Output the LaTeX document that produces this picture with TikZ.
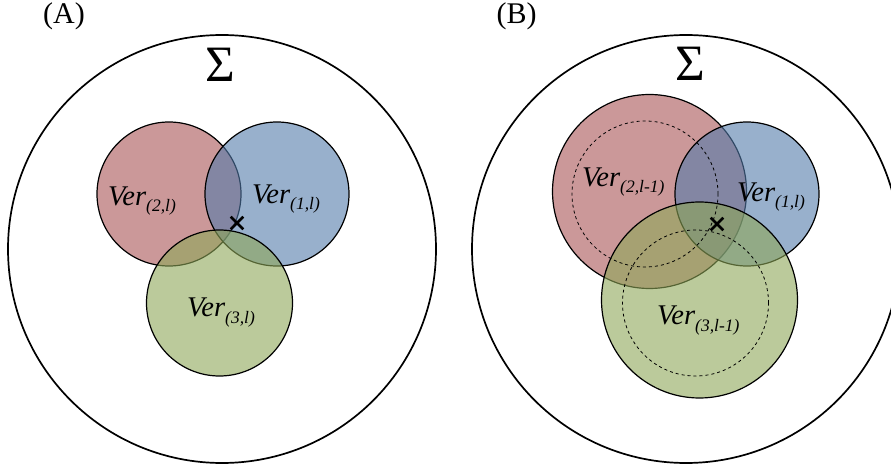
\documentclass[tikz,border=0pt]{standalone}
\usepackage{fontspec}
\setmainfont{Liberation Serif}
\usepackage{tikz}
\usetikzlibrary{shapes.misc, positioning}

\definecolor{verred}{RGB}{168,83,85}
\definecolor{verblue}{RGB}{83,123,170}
\definecolor{vergreen}{RGB}{142,167,88}

% subscript of a vertex set label
\newcommand{\vsub}[1]{\raisebox{-6pt}{\fontsize{17.5}{17.5}\selectfont #1}}

\begin{document}
\begin{tikzpicture}[
    x=1pt, y=1pt,
    % Node styles
    sigma set/.style={
        circle, draw, line width=1.7pt, inner sep=0pt,
      },
    ver set/.style={
        circle, draw, line width=1.2pt, inner sep=0pt, fill opacity=0.6,
      },
    old set/.style={
        circle, draw, dashed, line width=0.8pt, inner sep=0pt,
      },
    cross mark/.style={
        cross out, draw, line width=2.6pt, minimum size=10pt, inner sep=0pt,
      },
    % Text styles
    ver label/.style={
        font=\itshape\fontsize{28.5}{28.5}\selectfont, anchor=base west, inner sep=0pt,
      },
    panel label/.style={font=\fontsize{30}{30}\selectfont},
    sigma label/.style={font=\fontsize{51}{51}\selectfont},
  ]
  \useasboundingbox (0,0) rectangle (891,466);

  % --- (A) ---
  \node[panel label] (labA) at (64,450) {(A)};
  \node[sigma set, minimum size=428pt] (sigA) at (222,217) {};
  \node[sigma label] (symA) at (220,401) {Σ};

  \node[ver set, fill=verred, minimum size=144pt] (v2A) at (169,272) {};
  \node[ver set, fill=verblue, minimum size=144pt] (v1A) at (277,272) {};
  \node[ver set, fill=vergreen, minimum size=146pt] (v3A) at (219.5,163) {};

  \node[ver label] (t2A) at (108,260) {Ver\vsub{(2,l)}};
  \node[ver label] (t1A) at (252,262) {Ver\vsub{(1,l)}};
  \node[ver label] (t3A) at (187,149) {Ver\vsub{(3,l)}};

  \node[cross mark] (xA) at (237,243) {};

  % --- (B) ---
  \node[panel label] (labB) at (516.5,450) {(B)};
  \node[sigma set, minimum size=428pt] (sigB) at (686,217) {};
  \node[sigma label] (symB) at (690,402) {Σ};

  \node[ver set, fill=verred, minimum size=194pt] (v2B) at (649.5,274.5) {};
  \node[ver set, fill=verblue, minimum size=144pt] (v1B) at (747,272) {};
  \node[ver set, fill=vergreen, minimum size=196pt] (v3B) at (699.5,166) {};

  % sets of the previous level
  \node[old set, minimum size=146pt] (o2B) at (645,272) {};
  \node[old set, minimum size=146pt] (o3B) at (695.5,163) {};

  \node[ver label] (t2B) at (582,279) {Ver\vsub{(2,l-1)}};
  \node[ver label] (t1B) at (737,264) {Ver\vsub{(1,l)}};
  \node[ver label] (t3B) at (657,141) {Ver\vsub{(3,l-1)}};

  \node[cross mark] (xB) at (717,242) {};
\end{tikzpicture}
\end{document}
